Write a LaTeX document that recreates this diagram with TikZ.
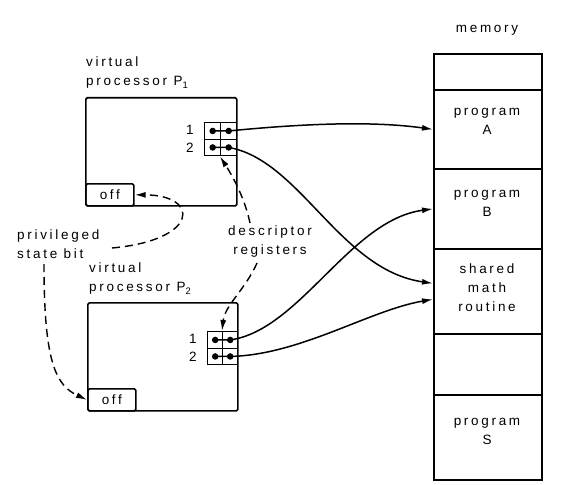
\documentclass[tikz,border=0pt]{standalone}
\usepackage{fontspec}
\setmainfont{Liberation Sans}[LetterSpace=20]
\usetikzlibrary{arrows.meta}
\begin{document}
\begin{tikzpicture}[x=1pt,y=-1pt,
  box/.style={draw,line width=1.7pt,rounded corners=1.5pt,inner sep=0,anchor=north west},
  memcell/.style={draw,line width=1.7pt,inner sep=0,anchor=north west,minimum width=108pt},
  lbl/.style={inner sep=0,font=\fontsize{13.5}{19}\selectfont},
  cell/.style={draw,line width=1.4pt,inner sep=0,anchor=north west,minimum height=16.5pt},
  dotc/.style={circle,fill,inner sep=0,minimum size=6.5pt},
  wire/.style={line width=1.5pt,-{Latex[length=11pt,width=6pt]}},
  hint/.style={line width=1.4pt,dash pattern=on 8pt off 5pt,-{Latex[length=11pt,width=6pt]}}]
\useasboundingbox (0,0) rectangle (588,484);
% memory
\node[memcell,minimum height=36pt] (m0) at (433,53) {};
\node[memcell,minimum height=79pt] (mA) at (433,89) {};
\node[memcell,minimum height=80pt] (mB) at (433,168) {};
\node[memcell,minimum height=85pt] (mM) at (433,248) {};
\node[memcell,minimum height=61pt] (mE) at (433,333) {};
\node[memcell,minimum height=85pt] (mS) at (433,394) {};
\node[lbl] (mem) at (487,30) {memory};
\node[lbl,align=center] (tA) at (487,121) {program\\A};
\node[lbl,align=center] (tB) at (487,203) {program\\B};
\node[lbl,align=center] (tM) at (487,288) {shared\\math\\routine};
\node[lbl,align=center] (tS) at (487,431) {program\\S};
% processor 1
\node[box,minimum width=151pt,minimum height=108pt] (p1) at (85,97) {};
\node[box,minimum width=48pt,minimum height=22pt,font=\fontsize{13.5}{15}\selectfont] (off1) at (85,183) {off};
\node[lbl,anchor=west,align=left] (lp1) at (86,73) {virtual\\processor P\textsubscript{1}};
\node[cell,minimum width=16pt] (a1) at (204,122) {};
\node[cell,minimum width=16pt] (b1) at (220,122) {};
\node[cell,minimum width=16pt] (a2) at (204,138.5) {};
\node[cell,minimum width=16pt] (b2) at (220,138.5) {};
\node[lbl] (n11) at (190,130) {1};
\node[lbl] (n12) at (190,148) {2};
% processor 2
\node[box,minimum width=150pt,minimum height=108pt] (p2) at (87,302) {};
\node[box,minimum width=48pt,minimum height=22pt,font=\fontsize{13.5}{15}\selectfont] (off2) at (87,388) {off};
\node[lbl,anchor=west,align=left] (lp2) at (89,279) {virtual\\processor P\textsubscript{2}};
\node[cell,minimum width=15pt] (c1) at (207,331) {};
\node[cell,minimum width=15pt] (d1) at (222,331) {};
\node[cell,minimum width=15pt] (c2) at (207,347.5) {};
\node[cell,minimum width=15pt] (d2) at (222,347.5) {};
\node[lbl] (n21) at (193,339) {1};
\node[lbl] (n22) at (193,357) {2};
% dots
\foreach \c in {a1,b1,a2,b2,c1,d1,c2,d2} {\node[dotc] at (\c.center) {};}
% labels
\node[lbl,anchor=west,align=left] (priv) at (17,244) {privileged\\state bit};
\node[lbl,align=center] (desc) at (270,242) {descriptor\\registers};
% wires
\draw[wire] (a1.center) -- (b1.center) .. controls (320,122) and (380,122) .. (mA.west);
\draw[wire] (a2.center) -- (b2.center) .. controls (300,160) and (340,270) .. ([yshift=8pt]mM.west);
\draw[wire] (c1.center) -- (d1.center) .. controls (300,330) and (350,220) .. (mB.west);
\draw[wire] (c2.center) -- (d2.center) .. controls (300,355) and (370,310) .. ([yshift=-8pt]mM.west);
% dashed hints
\coordinate (s1) at (112,248);
\coordinate (s2) at (44,264);
\coordinate (s3) at (250,223);
\coordinate (s4) at (257,263);
\draw[hint] (s1) .. controls (200,240) and (200,195) .. (off1.east);
\draw[hint] (s2) .. controls (44,360) and (55,385) .. (off2.west);
\draw[hint] (s3) .. controls (245,200) and (235,180) .. (b2.south west);
\draw[hint] (s4) .. controls (245,290) and (225,305) .. (d1.north west);
\end{tikzpicture}
\end{document}
